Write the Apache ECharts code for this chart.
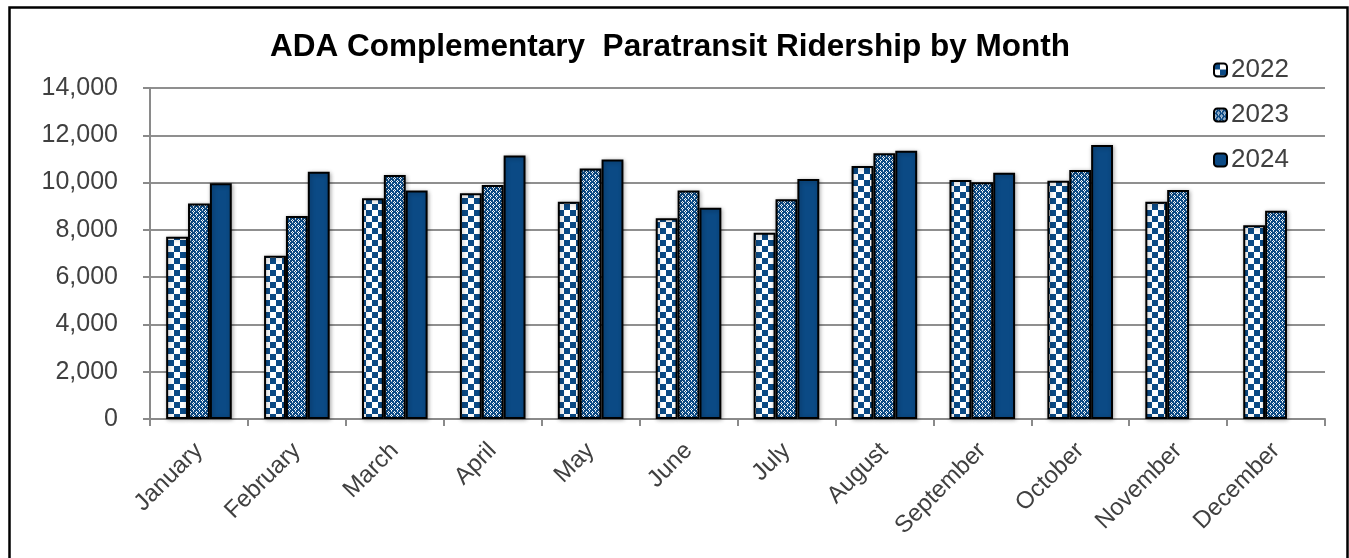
<!DOCTYPE html>
<html><head><meta charset="utf-8">
<script src="https://cdn.jsdelivr.net/npm/echarts@6/dist/echarts.min.js"></script>
<style>html,body{margin:0;padding:0;background:#fff}#c{width:1349px;height:558px}</style>
</head><body><div id="c"></div>
<script>
const months = ['January','February','March','April','May','June','July','August','September','October','November','December'];
const years = ['2022','2023','2024'];
const v2022 = [7710, 6900, 9340, 9550, 9190, 8490, 7880, 10700, 10110, 10080, 9190, 8190];
const v2023 = [9120, 8590, 10320, 9900, 10600, 9660, 9290, 11240, 10010, 10530, 9690, 8810];
const v2024 = [9970, 10460, 9660, 11150, 10980, 8940, 10150, 11350, 10420, 11590, null, null];
const yTicks = [0, 2000, 4000, 6000, 8000, 10000, 12000, 14000];

const BLUE = '#0B4A85';
function checker(){
  const c = document.createElement('canvas'); c.width = 12; c.height = 12;
  const g = c.getContext('2d');
  g.fillStyle = '#fff'; g.fillRect(0,0,12,12);
  g.fillStyle = BLUE; g.fillRect(0,0,6,6); g.fillRect(6,6,6,6);
  return c;
}
function lattice(){
  const c = document.createElement('canvas'); c.width = 6; c.height = 6;
  const g = c.getContext('2d');
  g.fillStyle = BLUE; g.fillRect(0,0,6,6);
  g.fillStyle = '#ffffff';
  [[1,0],[0,1],[2,1],[1,2],[4,3],[3,4],[5,4],[4,5]].forEach(p=>g.fillRect(p[0],p[1],1,1));
  g.fillStyle = '#9fb6cf';
  [[4,0],[1,3]].forEach(p=>g.fillRect(p[0],p[1],1,1));
  return c;
}
const fills = [
  {image: checker(), repeat: 'repeat'},
  {image: lattice(), repeat: 'repeat'},
  BLUE
];
const data = [v2022, v2023, v2024];

const chart = echarts.init(document.getElementById('c'), null, {renderer: 'canvas'});
chart.setOption({
  animation: false,
  backgroundColor: '#fff',
  title: {
    text: 'ADA Complementary  Paratransit Ridership by Month',
    left: 665, textAlign: 'center', top: 26,
    textStyle: {fontFamily: 'Liberation Sans, Arial, sans-serif', fontWeight: 'bold', fontSize: 31.5, color: '#000'}
  },
  legend: {
    orient: 'vertical', left: 1208, top: 52,
    itemWidth: 13, itemHeight: 13, itemGap: 19,
    textStyle: {fontFamily: 'Liberation Sans, Arial, sans-serif', fontSize: 26, color: '#404040', padding: [0,0,0,-1]},
    itemStyle: {borderColor: '#000', borderWidth: 2},
    data: years
  },
  grid: {left: 150, right: 24, top: 88, bottom: 139, containLabel: false},
  xAxis: {
    type: 'category', data: months,
    axisLine: {lineStyle: {color: '#8a8a8a', width: 2}},
    axisTick: {show: true, length: 7, alignWithLabel: false, lineStyle: {color: '#8a8a8a', width: 2}},
    axisLabel: {rotate: 45, margin: 28, fontFamily: 'Liberation Sans, Arial, sans-serif', fontSize: 24, color: '#404040', interval: 0}
  },
  yAxis: {
    type: 'value', min: 0, max: 14000, interval: 2000,
    axisLine: {show: true, lineStyle: {color: '#8a8a8a', width: 2}},
    axisTick: {show: true, length: 7, lineStyle: {color: '#8a8a8a', width: 2}},
    splitLine: {lineStyle: {color: '#8f8f8f', width: 2}},
    axisLabel: {margin: 32, fontFamily: 'Liberation Sans, Arial, sans-serif', fontSize: 25, color: '#404040',
      formatter: v => yTicks.includes(v) ? v.toLocaleString('en-US') : ''}
  },
  series: years.map((y, i) => ({
    name: y, type: 'bar', data: data[i],
    barGap: '0%', barCategoryGap: '33%',
    itemStyle: {color: fills[i], borderColor: '#000', borderWidth: 2,
      shadowColor: 'rgba(0,0,0,0.3)', shadowBlur: 4, shadowOffsetX: 1, shadowOffsetY: 1}
  })),
  graphic: [{
    type: 'rect', left: 7, top: 5, z: 100,
    shape: {x: 0, y: 0, width: 1338, height: 570},
    style: {fill: 'none', stroke: '#000', lineWidth: 2.5}
  }]
});
</script></body></html>
